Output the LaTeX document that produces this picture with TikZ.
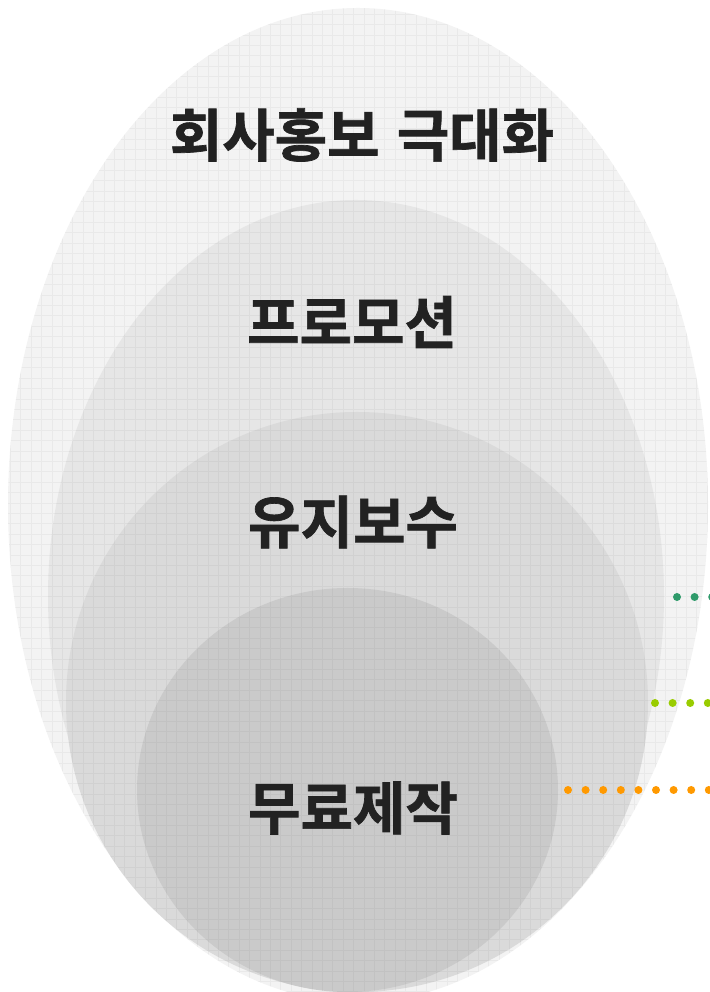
\documentclass[tikz,border=0pt]{standalone}
\usepackage{fontspec}
\newfontfamily\kr{Noto Sans CJK KR}[BoldFont={* Bold}, BoldFeatures={FakeBold=1.2}]
\definecolor{txt}{HTML}{222222}
\definecolor{g1}{HTML}{F3F3F3}
\definecolor{g2}{HTML}{E6E6E6}
\definecolor{g3}{HTML}{DADADA}
\definecolor{g4}{HTML}{CACACA}
\definecolor{dgreen}{HTML}{2E9A6A}
\definecolor{lime}{HTML}{99CC00}
\definecolor{orng}{HTML}{FF9900}
\tikzset{
  lbl/.style={font=\kr\bfseries\fontsize{57}{60}\selectfont, text=txt, inner sep=0pt},
  dotline/.style={line width=8pt, line cap=round, dash pattern=on 0pt off 17.6pt},
}
\begin{document}
\begin{tikzpicture}[x=1pt,y=1pt]
\useasboundingbox (0,0) rectangle (709,992);
\begin{scope}
\clip (0,0) rectangle (709,992);
\fill[g1] (358,487) ellipse [x radius=350, y radius=497];
\fill[g2] (356,396) ellipse [x radius=308, y radius=396];
\fill[g3] (357,290) ellipse [x radius=291, y radius=290];
\fill[g4] (347.5,202) ellipse [x radius=210.5, y radius=202];
\begin{scope}
\clip (358,487) ellipse [x radius=350, y radius=497];
\draw[black, opacity=0.04, line width=1pt, step=10.4] (0,0) grid (709,992);
\end{scope}
\end{scope}
\node[lbl] (t1) at (362,857) {회사홍보\hspace{0.3em}극대화};
\node[lbl] (t2) at (352,670) {프로모션};
\node[lbl] (t3) at (353,470) {유지보수};
\node[lbl] (t4) at (353,184) {무료제작};
\coordinate (a1) at (677,395);
\coordinate (b1) at (720,395);
\coordinate (a2) at (655,289);
\coordinate (b2) at (720,289);
\coordinate (a3) at (568,202);
\coordinate (b3) at (720,202);
\draw[dotline, dgreen] (a1) -- (b1);
\draw[dotline, lime] (a2) -- (b2);
\draw[dotline, orng] (a3) -- (b3);
\end{tikzpicture}
\end{document}
